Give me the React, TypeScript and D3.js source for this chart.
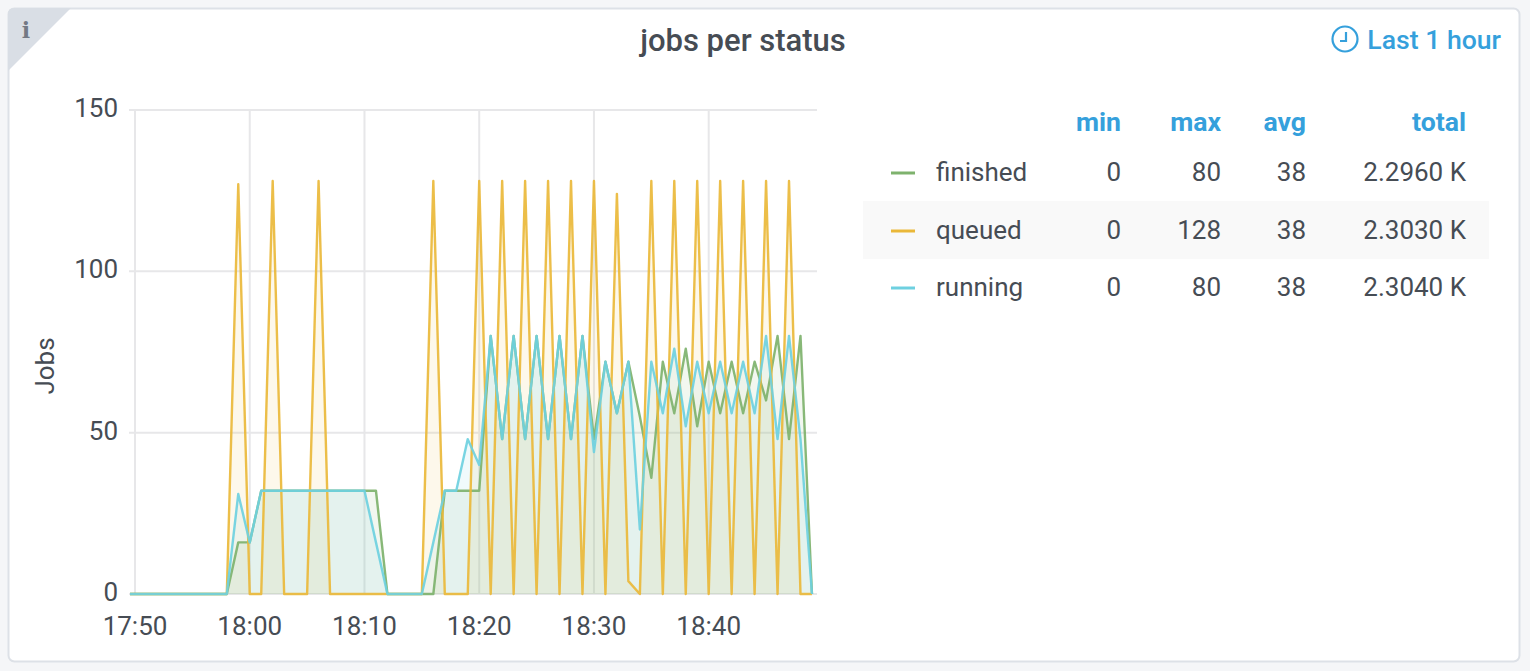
import { area, curveLinear, line, scaleLinear, scaleTime } from "d3";

const finished = [0, 0, 0, 0, 0, 0, 0, 0, 0, 0, 16, 16, 32, 32, 32, 32, 32, 32, 32, 32, 32, 32, 32, 0, 0, 0, 0, 0, 32, 32, 32, 32, 80, 48, 80, 48, 80, 48, 80, 48, 80, 48, 72, 56, 72, 55, 36, 72, 56, 76, 52, 72, 56, 72, 56, 72, 60, 80, 48, 80, 0];
const queued = [0, 0, 0, 0, 0, 0, 0, 0, 0, 0, 127, 0, 0, 128, 0, 0, 0, 128, 0, 0, 0, 0, 0, 0, 0, 0, 0, 128, 0, 0, 0, 128, 0, 128, 0, 128, 0, 128, 0, 128, 0, 128, 0, 124, 4, 0, 128, 0, 128, 0, 128, 0, 128, 0, 128, 0, 128, 0, 128, 0, 0];
const running = [0, 0, 0, 0, 0, 0, 0, 0, 0, 0, 31, 16, 32, 32, 32, 32, 32, 32, 32, 32, 32, 32, 16, 0, 0, 0, 0, 16, 32, 32, 48, 40, 80, 48, 80, 48, 80, 48, 80, 48, 80, 44, 72, 56, 72, 20, 72, 56, 76, 52, 72, 56, 72, 56, 72, 56, 80, 48, 80, 48, 0];

const yTicks = [0, 50, 100, 150];
const xTickHours = [[17, 50], [18, 0], [18, 10], [18, 20], [18, 30], [18, 40]];
const legendHeaders = ["min", "max", "avg", "total"];
const legendNames = ["finished", "queued", "running"];
const legendMin = ["0", "0", "0"];
const legendMax = ["80", "128", "80"];
const legendAvg = ["38", "38", "38"];
const legendTotal = ["2.2960 K", "2.3030 K", "2.3040 K"];

const colors = ["#7eb26d", "#eab839", "#6ed0e0"];
const seriesList = [finished, queued, running];

// first sample sits a bit before 17:50, the rest are one minute apart
const at = (h: number, m: number, s = 0) => new Date(2020, 0, 1, h, m, s);
const times = finished.map((_, i) => (i === 0 ? at(17, 49, 34) : at(17, 49 + i)));

const ink = "#464c54";
const blue = "#35a0dc";
const font = "Roboto, sans-serif";

export default function App() {
  const xScale = scaleTime().domain([at(17, 50), at(18, 40)]).range([135, 708.7]);
  const yScale = scaleLinear().domain([0, 150]).range([594, 110]);

  const seriesLine = line<number>()
    .x((_, i) => xScale(times[i]))
    .y((d) => yScale(d))
    .curve(curveLinear);
  const seriesArea = area<number>()
    .x((_, i) => xScale(times[i]))
    .y0(yScale(0))
    .y1((d) => yScale(d));

  const rowY = [172, 230, 287];
  const columns = [
    { x: 1121, values: legendMin },
    { x: 1221, values: legendMax },
    { x: 1306, values: legendAvg },
    { x: 1466, values: legendTotal },
  ];

  return (
    <svg
      width={1530}
      height={671}
      viewBox="0 0 1530 671"
      style={{ position: "absolute", left: 0, top: 0, display: "block", fontFamily: font }}
    >
      <rect width={1530} height={671} fill="#f5f6f8" />
      <rect x={8.5} y={8.5} width={1511} height={653} rx={6} fill="#fff" stroke="#dde1e7" strokeWidth={2} />
      <path d="M8 14 Q8 8 14 8 L71 8 L8 71 Z" fill="#d9dee5" />
      <text x={26} y={38} textAnchor="middle" fontFamily="DejaVu Serif, serif" fontWeight={700} fontSize={22} fill="#737984">
        i
      </text>

      <text x={743} y={51} textAnchor="middle" fontSize={31} fontWeight={500} fill={ink}>
        jobs per status
      </text>

      <circle cx={1345} cy={39} r={12.5} fill="none" stroke={blue} strokeWidth={2.2} />
      <path d="M1346 32 V41 H1340" fill="none" stroke={blue} strokeWidth={2.2} />
      <text x={1501} y={49} textAnchor="end" fontSize={26.6} fontWeight={500} fill={blue}>
        Last 1 hour
      </text>

      {yTicks.map((t) => (
        <g key={t}>
          <line x1={129} x2={817} y1={yScale(t)} y2={yScale(t)} stroke="#e7e7e9" strokeWidth={2} />
          <text x={118} y={yScale(t) + 7} textAnchor="end" fontSize={26} fill={ink}>
            {t}
          </text>
        </g>
      ))}
      {xTickHours.map(([h, m]) => {
        const x = xScale(at(h, m));
        return (
          <g key={`${h}:${m}`}>
            <line x1={x} x2={x} y1={110} y2={594} stroke="#e7e7e9" strokeWidth={2} />
            <text x={x} y={635} textAnchor="middle" fontSize={26} fill={ink}>
              {`${h}:${m === 0 ? "00" : m}`}
            </text>
          </g>
        );
      })}
      <text transform="translate(54,366) rotate(-90)" textAnchor="middle" fontSize={26} fill={ink}>
        Jobs
      </text>

      {seriesList.map((values, i) => (
        <path key={`area-${i}`} d={seriesArea(values) ?? ""} fill={colors[i]} fillOpacity={0.1} />
      ))}
      {seriesList.map((values, i) => (
        <path
          key={`line-${i}`}
          d={seriesLine(values) ?? ""}
          fill="none"
          stroke={colors[i]}
          strokeOpacity={0.92}
          strokeWidth={2.4}
          strokeLinejoin="round"
        />
      ))}

      <rect x={863} y={201} width={626} height={58} fill="#f9f9f9" />
      {legendHeaders.map((h, i) => (
        <text key={h} x={columns[i].x} y={131} textAnchor="end" fontSize={26.6} fontWeight={700} fill={blue}>
          {h}
        </text>
      ))}
      {legendNames.map((name, r) => (
        <g key={name}>
          <line x1={891} x2={915} y1={rowY[r] + 1} y2={rowY[r] + 1} stroke={colors[r]} strokeWidth={3} />
          <text x={936} y={rowY[r] + 9} fontSize={26} fill={ink}>
            {name}
          </text>
          {columns.map((c) => (
            <text key={c.x} x={c.x} y={rowY[r] + 9} textAnchor="end" fontSize={26} fill={ink}>
              {c.values[r]}
            </text>
          ))}
        </g>
      ))}
    </svg>
  );
}
